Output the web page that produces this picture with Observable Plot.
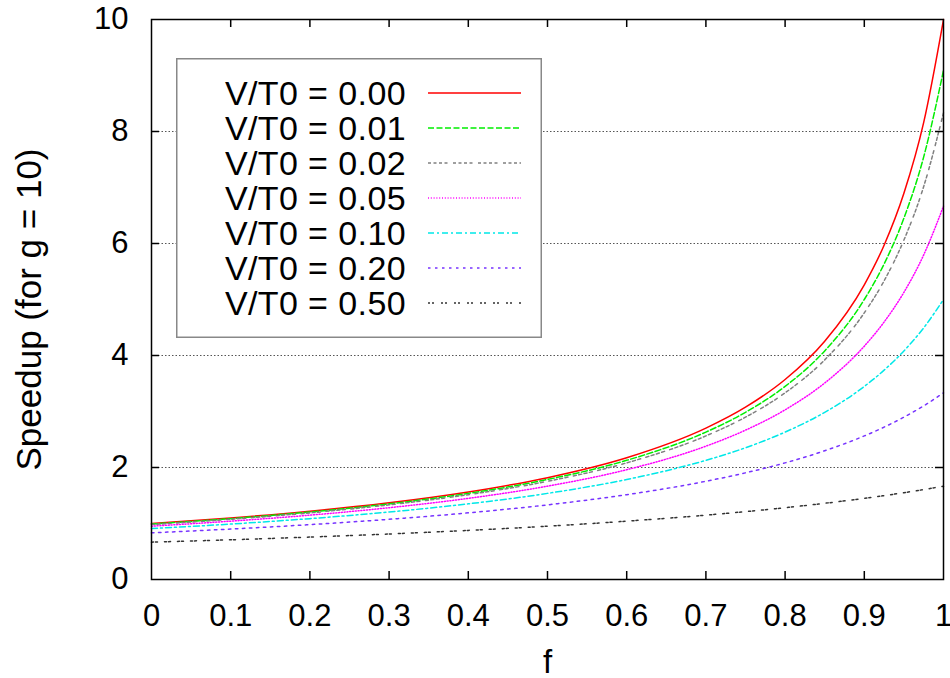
<!DOCTYPE html>
<html>
<head>
<meta charset="utf-8">
<script src="https://cdn.jsdelivr.net/npm/d3@7"></script>
<script src="https://cdn.jsdelivr.net/npm/@observablehq/plot@0.6"></script>
<style>
  html, body { margin: 0; padding: 0; background: #fff; }
  #wrap { position: relative; width: 950px; height: 678px; font-family: "Liberation Sans", Arial, sans-serif; }
  #legend { position: absolute; left: 176px; top: 58px; }
</style>
</head>
<body>
<div id="wrap"></div>
<script>
// ---- data ----
const fValues = [0, 0.1, 0.2, 0.3, 0.4, 0.5, 0.6, 0.7, 0.75, 0.8, 0.85, 0.9, 0.925, 0.95, 0.975, 1];
const seriesLabels = ["V/T0 = 0.00", "V/T0 = 0.01", "V/T0 = 0.02", "V/T0 = 0.05", "V/T0 = 0.10", "V/T0 = 0.20", "V/T0 = 0.50"];
const speedup000 = [1.000, 1.099, 1.220, 1.370, 1.563, 1.818, 2.174, 2.703, 3.077, 3.571, 4.255, 5.263, 5.970, 6.897, 8.163, 10.00];
const speedup001 = [0.990, 1.087, 1.205, 1.351, 1.538, 1.786, 2.128, 2.632, 2.985, 3.448, 4.082, 5.000, 5.634, 6.452, 7.547, 9.091];
const speedup002 = [0.980, 1.075, 1.190, 1.333, 1.515, 1.754, 2.083, 2.564, 2.899, 3.333, 3.922, 4.762, 5.333, 6.061, 7.018, 8.333];
const speedup005 = [0.952, 1.042, 1.149, 1.282, 1.449, 1.667, 1.961, 2.381, 2.667, 3.030, 3.509, 4.167, 4.598, 5.128, 5.797, 6.667];
const speedup010 = [0.909, 0.990, 1.087, 1.205, 1.351, 1.538, 1.786, 2.128, 2.353, 2.632, 2.985, 3.448, 3.738, 4.082, 4.494, 5.000];
const speedup020 = [0.833, 0.901, 0.980, 1.075, 1.190, 1.333, 1.515, 1.754, 1.905, 2.083, 2.299, 2.564, 2.721, 2.899, 3.101, 3.333];
const speedup050 = [0.667, 0.709, 0.758, 0.813, 0.877, 0.952, 1.042, 1.149, 1.212, 1.282, 1.361, 1.449, 1.498, 1.550, 1.606, 1.667];
const seriesValues = [speedup000, speedup001, speedup002, speedup005, speedup010, speedup020, speedup050];

const xTicks = [0, 0.1, 0.2, 0.3, 0.4, 0.5, 0.6, 0.7, 0.8, 0.9, 1];
const xTickLabels = ["0", "0.1", "0.2", "0.3", "0.4", "0.5", "0.6", "0.7", "0.8", "0.9", "1"];
const xInnerTicks = [0.1, 0.2, 0.3, 0.4, 0.5, 0.6, 0.7, 0.8, 0.9];
const yTicks = [0, 2, 4, 6, 8, 10];
const yTickLabels = ["0", "2", "4", "6", "8", "10"];
const yInnerTicks = [2, 4, 6, 8];

// ---- styles ----
const seriesColors = ["#ff0000", "#00ee00", "#808080", "#ff00ff", "#00e8e8", "#7733ff", "#333333"];
const seriesDash = ["none", "6,2.5", "3,2.5,3,2.5,3,2.5,3,5.5", "1,1.8", "6,3,2,3", "2.5,4.5", "2,2,2,7"];

const rows = [];
seriesValues.forEach((vals, si) => {
  vals.forEach((s, i) => rows.push({f: fValues[i], s, series: seriesLabels[si]}));
});

const W = 950, H = 678;
const mL = 151, mR = 7, mT = 19, mB = 99;
const frameW = W - mL - mR, frameH = H - mT - mB;
const tick = 8;

const lineMarks = seriesLabels.map((lab, si) =>
  Plot.line(rows.filter(d => d.series === lab), {
    x: "f", y: "s", stroke: seriesColors[si], strokeWidth: 1.5,
    strokeDasharray: seriesDash[si], curve: "monotone-x"
  })
);

const chart = Plot.plot({
  width: W, height: H,
  marginLeft: mL, marginRight: mR, marginTop: mT, marginBottom: mB,
  style: {fontFamily: "'Liberation Sans', Arial, sans-serif", background: "white", overflow: "visible", color: "black"},
  x: {domain: [0, 1]},
  y: {domain: [0, 10]},
  marks: [
    Plot.ruleY(yInnerTicks, {stroke: "#555", strokeWidth: 1, strokeDasharray: "1.5,2"}),
    ...lineMarks,
    // inward ticks (gnuplot style, mirrored)
    Plot.ruleX(xInnerTicks, {stroke: "black", strokeWidth: 1.5, insetTop: frameH - tick}),
    Plot.ruleX(xInnerTicks, {stroke: "black", strokeWidth: 1.5, insetBottom: frameH - tick}),
    Plot.ruleY(yInnerTicks, {stroke: "black", strokeWidth: 1.5, insetRight: frameW - tick}),
    Plot.ruleY(yInnerTicks, {stroke: "black", strokeWidth: 1.5, insetLeft: frameW - tick}),
    Plot.frame({stroke: "black", strokeWidth: 1.5}),
    Plot.axisX({ticks: xTicks, tickFormat: (d, i) => xTickLabels[i], tickSize: 0, tickPadding: 24,
      fontSize: 31, label: "f", labelAnchor: "center", labelOffset: 93, labelArrow: "none"}),
    Plot.axisY({ticks: yTicks, tickFormat: (d, i) => yTickLabels[i], tickSize: 0, tickPadding: 23,
      fontSize: 31, label: "Speedup (for g = 10)", labelAnchor: "center", labelOffset: 135, labelArrow: "none"})
  ]
});

// axis titles are a little larger than the tick labels in the reference
d3.select(chart).selectAll('g[aria-label="y-axis label"]').attr("font-size", 35)
  .attr("transform", function() { return (this.getAttribute("transform") || "") + " translate(0,10)"; });
d3.select(chart).selectAll('g[aria-label="x-axis label"]').attr("font-size", 33);

const wrap = document.getElementById("wrap");
wrap.appendChild(chart);

// ---- legend (overlay box in the upper left of the plot) ----
const legW = 366, legH = 280, rowGap = 35, firstRow = 35;
const leg = d3.select(wrap).append("svg")
  .attr("id", "legend").attr("width", legW).attr("height", legH)
  .style("font-family", "'Liberation Sans', Arial, sans-serif");
leg.append("rect").attr("x", 0.75).attr("y", 0.75)
  .attr("width", legW - 1.5).attr("height", legH - 1.5)
  .attr("fill", "white").attr("stroke", "#888").attr("stroke-width", 1.5);
const item = leg.selectAll("g.item").data(seriesLabels).join("g")
  .attr("class", "item")
  .attr("transform", (d, i) => `translate(0,${firstRow + i * rowGap})`);
item.append("text").attr("x", 230).attr("dy", "0.36em")
  .attr("text-anchor", "end").attr("font-size", 34).attr("letter-spacing", "0.4px").attr("fill", "black")
  .text(d => d);
item.append("line").attr("x1", 252).attr("x2", 345)
  .attr("stroke", (d, i) => seriesColors[i]).attr("stroke-width", 1.5)
  .attr("stroke-dasharray", (d, i) => seriesDash[i]);
</script>
</body>
</html>
